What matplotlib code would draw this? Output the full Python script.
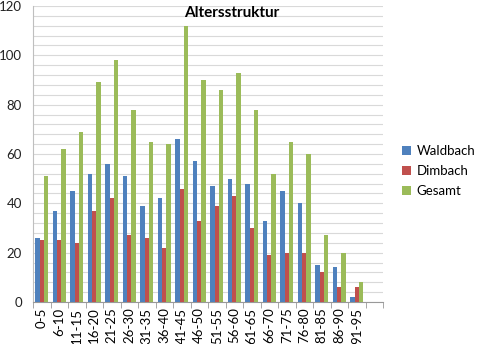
import numpy as np
import matplotlib.pyplot as plt
from matplotlib.ticker import MultipleLocator

plt.rcParams['font.family'] = ['Lato', 'DejaVu Sans']

# Altersgruppen und Einwohnerzahlen
groups = ['0-5', '6-10', '11-15', '16-20', '21-25', '26-30', '31-35', '36-40',
          '41-45', '46-50', '51-55', '56-60', '61-65', '66-70', '71-75', '76-80',
          '81-85', '86-90', '91-95', '']
waldbach = [26, 37, 45, 52, 56, 51, 39, 42, 66, 57, 47, 50, 48, 33, 45, 40, 15, 14, 2]
dimbach = [25, 25, 24, 37, 42, 27, 26, 22, 46, 33, 39, 43, 30, 19, 20, 20, 12, 6, 6]
gesamt = [51, 62, 69, 89, 98, 78, 65, 64, 112, 90, 86, 93, 78, 52, 65, 60, 27, 20, 8]

fig = plt.figure(figsize=(4.8, 3.44), dpi=100)
ax = fig.add_axes([33 / 480, 42 / 344, 350 / 480, 296 / 344])

x = np.arange(len(waldbach))
w = 0.25
ax.bar(x - w, waldbach, w, color='#4F81BD', label='Waldbach', zorder=3)
ax.bar(x, dimbach, w, color='#C0504D', label='Dimbach', zorder=3)
ax.bar(x + w, gesamt, w, color='#9BBB59', label='Gesamt', zorder=3)

ax.set_xlim(-0.5, len(groups) - 0.5)
ax.set_ylim(0, 120)
ax.yaxis.set_major_locator(MultipleLocator(20))
ax.yaxis.set_minor_locator(MultipleLocator(4))
ax.grid(axis='y', which='both', color='#d9d9d9', linewidth=0.8, zorder=0)
ax.tick_params(axis='y', which='both', length=0, labelsize=9.5, pad=8, colors='#222222')

ax.set_xticks(np.arange(len(groups)))
ax.set_xticklabels(groups, rotation=90, fontsize=9.5)
ax.set_xticks(np.arange(len(groups) + 1) - 0.5, minor=True)
ax.tick_params(axis='x', which='major', length=0, pad=4)
ax.tick_params(axis='x', which='minor', length=4, color='#999999')

for side in ['top', 'right']:
    ax.spines[side].set_visible(False)
ax.spines['left'].set_color('#bfbfbf')
ax.spines['bottom'].set_color('#999999')

fig.text(232 / 480, 1 - 13 / 344, 'Altersstruktur', ha='center', va='center',
         fontsize=11, fontweight='bold')

fig.legend(loc='center left', bbox_to_anchor=(390 / 480, 1 - 171 / 344),
           frameon=False, fontsize=9.5, handlelength=0.7, handleheight=0.7,
           handletextpad=0.4, labelspacing=0.6)

fig.savefig('out.png', dpi=100)
